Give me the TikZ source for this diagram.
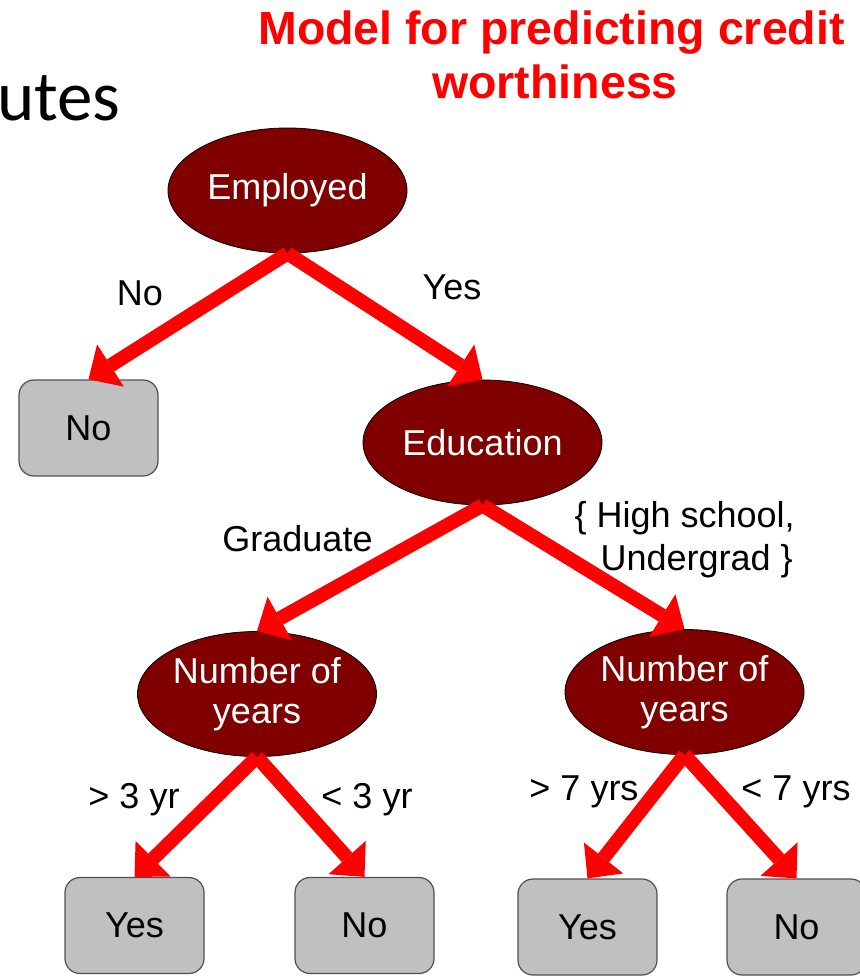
\documentclass[tikz,border=0pt]{standalone}
\usepackage{fontspec}
\setmainfont{Liberation Sans}
\newfontfamily\calibri{Carlito}
\usetikzlibrary{shapes.geometric,arrows.meta}
\definecolor{maroonfill}{RGB}{128,0,0}
\definecolor{boxgray}{RGB}{192,192,192}
\definecolor{boxedge}{RGB}{80,80,80}
\begin{document}
\begin{tikzpicture}[x=1pt,y=-1pt,
  attr/.style={ellipse, draw=black, line width=0.8pt, fill=maroonfill, text=white,
    minimum width=239pt, minimum height=125pt, inner sep=0pt, align=center,
    font=\fontsize{36}{40}\selectfont},
  leaf/.style={rectangle, rounded corners=15pt, draw=boxedge, line width=1.2pt, fill=boxgray,
    minimum width=139pt, minimum height=96pt, inner sep=0pt,
    font=\fontsize{36}{40}\selectfont},
  branch/.style={draw=red, line width=14pt,
    -{Triangle[length=26pt,width=50pt,line width=0pt]}},
  lbl/.style={anchor=base, inner sep=0pt, font=\fontsize{36}{43}\selectfont},
  titletext/.style={anchor=base, inner sep=0pt, text=red,
    font=\fontsize{46.5}{54}\selectfont\bfseries},
]
\useasboundingbox (0,0) rectangle (859,976);

% title and partial heading
\node[anchor=base west, inner sep=0pt, font=\calibri\fontsize{71}{80}\selectfont] (utes) at (-3,121) {utes};
\node[titletext] (t1) at (551.5,45) {Model for predicting credit};
\node[titletext] (t2) at (555,99) {worthiness};

% attribute nodes
\node[attr] (emp) at (287.5,190.5) {Employed};
\node[attr] (edu) at (482.5,442.5) {Education};
\node[attr] (nyl) at (257,694) {Number of\\years};
\node[attr] (nyr) at (684.5,692) {Number of\\years};

% leaves
\node[leaf] (no1) at (88.5,428) {No};
\node[leaf] (yes2) at (134.5,925.5) {Yes};
\node[leaf] (no3) at (364.5,925.5) {No};
\node[leaf] (yes4) at (587.5,927) {Yes};
\node[leaf] (no5) at (796.5,927) {No};

% branches
\draw[branch] (emp.south) -- (no1.north);
\draw[branch] (emp.south) -- (edu.north);
\draw[branch] (edu.south) -- (nyl.north);
\draw[branch] (edu.south) -- (nyr.north);
\draw[branch] (nyl.south) -- (yes2.north);
\draw[branch] (nyl.south) -- (no3.north);
\draw[branch] (nyr.south) -- (yes4.north);
\draw[branch] (nyr.south) -- (no5.north);

% branch labels
\node[lbl] (lno) at (140,305) {No};
\node[lbl] (lyes) at (452,299) {Yes};
\node[lbl] (lgrad) at (297.5,551) {Graduate};
\node[lbl, anchor=base east] (lhs1) at (795,527) {\{ High school,};
\node[lbl, anchor=base east] (lhs2) at (793,570) {Undergrad \}};
\node[lbl] (lgt3) at (134,808) {> 3 yr};
\node[lbl] (llt3) at (367,808) {< 3 yr};
\node[lbl] (lgt7) at (584,800) {> 7 yrs};
\node[lbl] (llt7) at (796,800) {< 7 yrs};
\end{tikzpicture}
\end{document}
